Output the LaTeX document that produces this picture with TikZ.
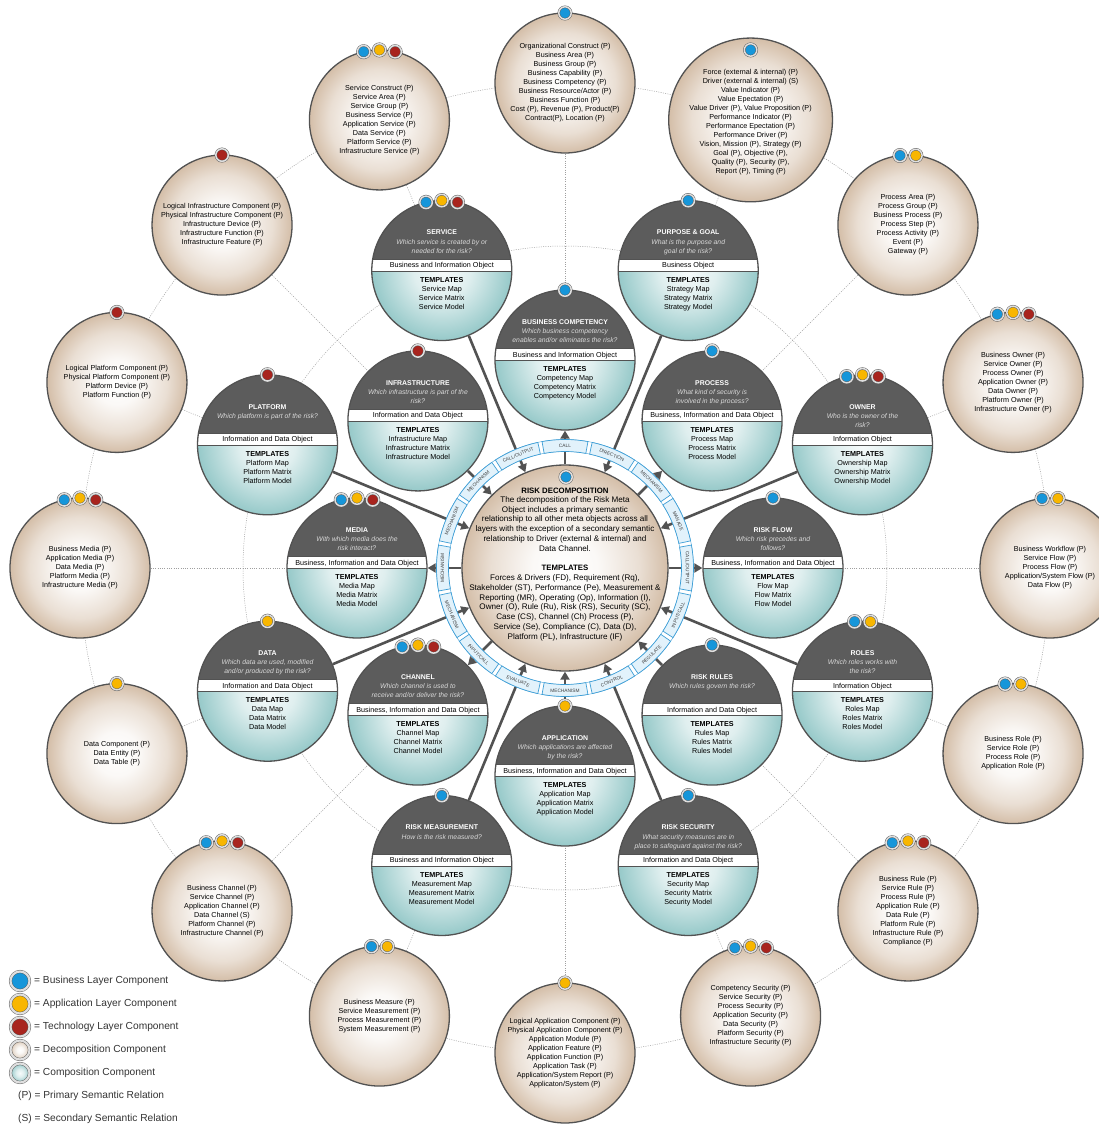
\documentclass[tikz,border=0pt]{standalone}
\usepackage{fontspec}
\setmainfont{Liberation Sans}
\usetikzlibrary{arrows.meta}
\pgfdeclarelayer{bg}
\pgfsetlayers{bg,main}

\definecolor{tanc}{RGB}{212,190,168}
\definecolor{tealc}{RGB}{150,201,201}
\definecolor{topgray}{RGB}{92,92,92}
\definecolor{edgegray}{RGB}{82,82,82}
\definecolor{dblue}{RGB}{22,150,218}
\definecolor{dyel}{RGB}{248,182,0}
\definecolor{dred}{RGB}{168,36,30}
\definecolor{ringblue}{RGB}{62,158,214}
\definecolor{ringfill}{RGB}{226,242,251}

\pgfdeclareradialshading{decompball}{\pgfpoint{0bp}{0bp}}{color(0bp)=(white); color(8bp)=(white!90!tanc); color(18bp)=(white!50!tanc); color(25bp)=(tanc); color(50bp)=(tanc)}
\pgfdeclareradialshading{compball}{\pgfpoint{0bp}{0bp}}{color(0bp)=(white!92!tealc); color(10bp)=(white!70!tealc); color(25bp)=(tealc); color(50bp)=(tealc)}

\begin{document}
\begin{tikzpicture}[x=1pt,y=1pt,
  dotline/.style={draw=gray!75, line width=0.5pt, dash pattern=on 1pt off 1.3pt},
  decomp/.style={circle, minimum size=140pt, inner sep=0pt, draw=edgegray, line width=1.3pt, shade, shading=decompball, align=center, font=\fontsize{7.2}{9}\selectfont},
  comp/.style={circle, minimum size=140pt, inner sep=0pt, draw=edgegray, line width=1.3pt, shade, shading=compball,
    path picture={
      \fill[topgray] ([shift={(-72,11.5)}]path picture bounding box.center) rectangle ([shift={(72,72)}]path picture bounding box.center);
      \filldraw[fill=white, draw=edgegray, line width=0.6pt] ([shift={(-72,-0.5)}]path picture bounding box.center) rectangle ([shift={(72,11.5)}]path picture bounding box.center);}},
  dot/.style={circle, inner sep=0pt, minimum size=12.5pt, draw=gray!70!black, line width=0.45pt, double=gray!25, double distance=1.5pt},
  legdot/.style={dot, minimum size=19pt, double distance=2.2pt},
  ttl/.style={text=white, inner sep=0pt, font=\bfseries\fontsize{6.9}{8}\selectfont},
  qst/.style={text=white!85!black, align=center, anchor=north, inner sep=0pt, font=\itshape\fontsize{6.8}{8.9}\selectfont},
  objtxt/.style={anchor=base, inner sep=0pt, font=\fontsize{7.2}{8}\selectfont},
  tpltxt/.style={align=center, anchor=north, inner sep=0pt, font=\fontsize{7.2}{9}\selectfont},
  link/.style={draw=edgegray, line width=2.6pt, -{Triangle[length=8pt,width=9pt]}},
  ringlab/.style={fill=ringfill, draw=ringblue, line width=0.7pt},
  ringtxt/.style={inner sep=0pt, text=black!75, font=\fontsize{4.8}{5}\selectfont},
  legtxt/.style={anchor=west, inner sep=0pt, text=black!80, font=\fontsize{10.2}{12}\selectfont}
]
\useasboundingbox (-565,-560) rectangle (534,568);

\begin{pgfonlayer}{bg}
\draw[dotline] (0,0) circle[radius=485];
\draw[dotline] (0,0) circle[radius=322];
\end{pgfonlayer}

\foreach \a/\r/\nm/\ttl/\qq/\obj/\tp/\dl in {
  90/208/comp/{BUSINESS COMPETENCY}/{Which business competency\\enables and/or eliminates the risk?}/{Business and Information Object}/Competency/{0/dblue},
  112.5/322/serv/SERVICE/{Which service is created by or\\needed for the risk?}/{Business and Information Object}/Service/{13/dblue,0/dyel,-13/dred},
  135/208/infra/INFRASTRUCTURE/{Which infrastructure is part of the\\risk?}/{Information and Data Object}/Infrastructure/{0/dred},
  157.5/322/plat/PLATFORM/{Which platform is part of the risk?}/{Information and Data Object}/Platform/{0/dred},
  180/208/media/MEDIA/{With which media does the\\risk interact?}/{Business, Information and Data Object}/Media/{13/dblue,0/dyel,-13/dred},
  202.5/322/data/DATA/{Which data are used, modified\\and/or produced by the risk?}/{Information and Data Object}/Data/{0/dyel},
  225/208/chan/CHANNEL/{Which channel is used to\\receive and/or deliver the risk?}/{Business, Information and Data Object}/Channel/{13/dblue,0/dyel,-13/dred},
  247.5/322/meas/{RISK MEASUREMENT}/{How is the risk measured?}/{Business and Information Object}/Measurement/{0/dblue},
  270/208/app/APPLICATION/{Which applications are affected\\by the risk?}/{Business, Information and Data Object}/Application/{0/dyel},
  292.5/322/sec/{RISK SECURITY}/{What security measures are in\\place to safeguard against the risk?}/{Information and Data Object}/Security/{0/dblue},
  315/208/rules/{RISK RULES}/{Which rules govern the risk?}/{Information and Data Object}/Rules/{0/dblue},
  337.5/322/roles/ROLES/{Which roles works with\\the risk?}/{Information Object}/Roles/{6.5/dblue,-6.5/dyel},
  0/208/flow/{RISK FLOW}/{Which risk precedes and\\follows?}/{Business, Information and Data Object}/Flow/{0/dblue},
  22.5/322/owner/OWNER/{Who is the owner of the\\risk?}/{Information Object}/Ownership/{13/dblue,0/dyel,-13/dred},
  45/208/proc/PROCESS/{What kind of security is\\involved in the process?}/{Business, Information and Data Object}/Process/{0/dblue},
  67.5/322/goal/{PURPOSE \& GOAL}/{What is the purpose and\\goal of the risk?}/{Business Object}/Strategy/{0/dblue}}
{
  \node[comp] (\nm) at (\a:\r) {};
  \node[ttl] (\nm-t) at ([yshift=38]\nm.center) {\ttl};
  \node[qst] (\nm-q) at ([yshift=31.5]\nm.center) {\qq};
  \node[objtxt] (\nm-o) at ([yshift=3]\nm.center) {\obj};
  \node[tpltxt] (\nm-m) at ([yshift=-6.3]\nm.center) {\textbf{TEMPLATES}\\\tp\ Map\\\tp\ Matrix\\\tp\ Model};
  \foreach \da/\dc [count=\k] in \dl \node[dot, fill=\dc] (\nm-d\k) at ([shift={({90+\da}:70)}]\nm.center) {};
}

\foreach \a/\nm/\txt/\dl in {
  90/ocomp/{Organizational Construct (P)\\Business Area (P)\\Business Group (P)\\Business Capability (P)\\Business Competency (P)\\Business Resource/Actor (P)\\Business Function (P)\\Cost (P), Revenue (P), Product(P)\\Contract(P), Location (P)}/{0/dblue},
  112.5/oserv/{Service Construct (P)\\Service Area (P)\\Service Group (P)\\Business Service (P)\\Application Service (P)\\Data Service (P)\\Platform Service (P)\\Infrastructure Service (P)}/{13/dblue,0/dyel,-13/dred},
  135/oinfra/{Logical Infrastructure Component (P)\\Physical Infrastructure Component (P)\\Infrastructure Device (P)\\Infrastructure Function (P)\\Infrastructure Feature (P)}/{0/dred},
  157.5/oplat/{Logical Platform Component (P)\\Physical Platform Component (P)\\Platform Device (P)\\Platform Function (P)}/{0/dred},
  180/omedia/{Business Media (P)\\Application Media (P)\\Data Media (P)\\Platform Media (P)\\Infrastructure Media (P)}/{13/dblue,0/dyel,-13/dred},
  202.5/odata/{Data Component (P)\\Data Entity (P)\\Data Table (P)}/{0/dyel},
  225/ochan/{Business Channel (P)\\Service Channel (P)\\Application Channel (P)\\Data Channel (S)\\Platform Channel (P)\\Infrastructure Channel (P)}/{13/dblue,0/dyel,-13/dred},
  247.5/omeas/{Business Measure (P)\\Service Measurement (P)\\Process Measurement (P)\\System Measurement (P)}/{6.5/dblue,-6.5/dyel},
  270/oapp/{Logical Application Component (P)\\Physical Application Component (P)\\Application Module (P)\\Application Feature (P)\\Application Function (P)\\Application Task (P)\\Application/System Report (P)\\Applicaton/System (P)}/{0/dyel},
  292.5/osec/{Competency Security (P)\\Service Security (P)\\Process Security (P)\\Application Security (P)\\Data Security (P)\\Platform Security (P)\\Infrastructure Security (P)}/{13/dblue,0/dyel,-13/dred},
  315/orules/{Business Rule (P)\\Service Rule (P)\\Process Rule (P)\\Application Rule (P)\\Data Rule (P)\\Platform Rule (P)\\Infrastructure Rule (P)\\Compliance (P)}/{13/dblue,0/dyel,-13/dred},
  337.5/oroles/{Business Role (P)\\Service Role (P)\\Process Role (P)\\Application Role (P)}/{6.5/dblue,-6.5/dyel},
  0/oflow/{Business Workflow (P)\\Service Flow (P)\\Process Flow (P)\\Application/System Flow (P)\\Data Flow (P)}/{6.5/dblue,-6.5/dyel},
  22.5/oowner/{Business Owner (P)\\Service Owner (P)\\Process Owner (P)\\Application Owner (P)\\Data Owner (P)\\Platform Owner (P)\\Infrastructure Owner (P)}/{13/dblue,0/dyel,-13/dred},
  45/oproc/{Process Area (P)\\Process Group (P)\\Business Process (P)\\Process Step (P)\\Process Activity (P)\\Event (P)\\Gateway (P)}/{6.5/dblue,-6.5/dyel},
  67.5/ogoal/{\\Force (external \& internal) (P)\\Driver (external \& internal) (S)\\Value Indicator (P)\\Value Epectation (P)\\Value Driver (P), Value Proposition (P)\\Performance Indicator (P)\\Performance Epectation (P)\\Performance Driver (P)\\Vision, Mission (P), Strategy (P)\\Goal (P), Objective (P),\\Quality (P), Security (P),\\Report (P), Timing (P)}/{0/dblue}}
{
  \node[decomp] (\nm) at (\a:485) {\txt};
  \foreach \da/\dc [count=\k] in \dl \node[dot, fill=\dc] (\nm-d\k) at ([shift={({90+\da}:70)}]\nm.center) {};
}

\node[decomp, minimum size=206pt] (rd) at (0,0) {};
\node[dot, fill=dblue] (rd-d) at (1,91) {};
\node[inner sep=0pt, font=\bfseries\fontsize{7.8}{9}\selectfont] (rd-t) at (0,77.5) {RISK DECOMPOSITION};
\node[align=center, anchor=north, inner sep=0pt, font=\fontsize{8.1}{9.7}\selectfont] (rd-p) at (0,71.5) {The decomposition of the Risk Meta\\Object includes a primary semantic\\relationship to all other meta objects across all\\layers with the exception of a secondary semantic\\relationship to Driver (external \& internal) and\\Data Channel.};
\node[inner sep=0pt, font=\bfseries\fontsize{7.8}{9}\selectfont] (rd-tt) at (0,0.5) {TEMPLATES};
\node[align=center, anchor=north, inner sep=0pt, font=\fontsize{8.1}{9.85}\selectfont] (rd-l) at (0,-6.3) {Forces \& Drivers (FD), Requirement (Rq),\\Stakeholder (ST), Performance (Pe), Measurement \&\\Reporting (MR), Operating (Op), Information (I),\\Owner (O), Rule (Ru), Risk (RS), Security (SC),\\Case (CS), Channel (Ch) Process (P),\\Service (Se), Compliance (C), Data (D),\\Platform (PL), Infrastructure (IF)};

\begin{pgfonlayer}{bg}
\foreach \o/\i in {ocomp/comp,oserv/serv,oinfra/infra,oplat/plat,omedia/media,odata/data,ochan/chan,omeas/meas,oapp/app,osec/sec,orules/rules,oroles/roles,oflow/flow,oowner/owner,oproc/proc,ogoal/goal}
  \draw[dotline] (\o) -- (\i);
\foreach \i in {comp,proc,flow,media,chan}
  \draw[link] (rd) -- (\i);
\foreach \i in {goal,owner,roles,rules,sec,app,meas,data,plat,infra,serv}
  \draw[link] (\i) -- (rd);
\end{pgfonlayer}

\draw[ringblue, line width=0.4pt, fill=white, even odd rule] (0,0) circle[radius=128.5] (0,0) circle[radius=116.5];
\foreach \a/\lab [evaluate=\a as \rot using {\a<=180 ? \a-90 : \a+90}] in {90/CALL,67.5/DIRECTION,45/MECHANISM,22.5/MANAGE,0/{CALL/OUTPUT},337.5/{INPUT/CALL},315/REGULATE,292.5/CONTROL,270/MECHANISM,247.5/EVALUATE,225/{INPUT/CALL},202.5/MECHANISM,180/MECHANISM,157.5/MECHANISM,135/MECHANISM,112.5/{CALL/OUTPUT}}
{
  \draw[ringlab] ({\a-10.3}:116.5) arc[start angle=\a-10.3, end angle=\a+10.3, radius=116.5] -- ({\a+10.3}:128.5) arc[start angle=\a+10.3, end angle=\a-10.3, radius=128.5] -- cycle;
  \node[ringtxt, rotate=\rot] (r\a) at (\a:122.5) {\lab};
}

\node[legdot, fill=dblue] (lg1) at (-545,-413) {};
\node[legdot, fill=dyel] (lg2) at (-545,-436) {};
\node[legdot, fill=dred] (lg3) at (-545,-459) {};
\node[legdot, shade, shading=decompball] (lg4) at (-545,-482) {};
\node[legdot, shade, shading=compball] (lg5) at (-545,-505) {};
\node[legtxt] (lt1) at (-531,-413) {= Business Layer Component};
\node[legtxt] (lt2) at (-531,-436) {= Application Layer Component};
\node[legtxt] (lt3) at (-531,-459) {= Technology Layer Component};
\node[legtxt] (lt4) at (-531,-482) {= Decomposition Component};
\node[legtxt] (lt5) at (-531,-505) {= Composition Component};
\node[legtxt] (lt6) at (-547,-528) {(P) = Primary Semantic Relation};
\node[legtxt] (lt7) at (-547,-551) {(S) = Secondary Semantic Relation};
\end{tikzpicture}
\end{document}
